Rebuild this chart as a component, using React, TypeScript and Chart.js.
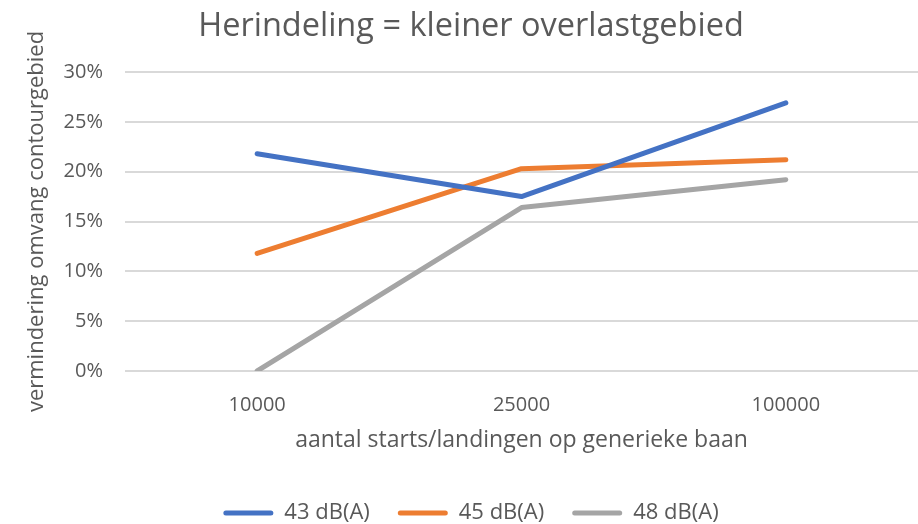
import React, { useEffect, useRef } from "react";
import { Chart, registerables } from "chart.js";

Chart.register(...registerables);

const categories = ["10000", "25000", "100000"];
const series43 = [21.8, 17.5, 26.9];
const series45 = [11.8, 20.3, 21.2];
const series48 = [0, 16.4, 19.2];
const seriesNames = ["43 dB(A)", "45 dB(A)", "48 dB(A)"];
const yTicks = [0, 5, 10, 15, 20, 25, 30];

const FONT = "'Open Sans', 'Liberation Sans', sans-serif";
const TEXT = "#595959";

export default function App() {
  const ref = useRef<HTMLCanvasElement | null>(null);
  useEffect(() => {
    if (!ref.current) return;
    const colors = ["#4472C4", "#ED7D31", "#A5A5A5"];
    const vals = [series43, series45, series48];
    const chart = new Chart(ref.current, {
      type: "line",
      data: {
        labels: categories,
        datasets: vals.map((v, i) => ({
          label: seriesNames[i],
          data: v,
          borderColor: colors[i],
          backgroundColor: colors[i],
          borderWidth: 5,
          pointRadius: 0,
          borderCapStyle: "round" as const,
          borderJoinStyle: "round" as const,
          tension: 0,
        })),
      },
      options: {
        animation: false,
        responsive: false,
        maintainAspectRatio: false,
        layout: { padding: { left: 24, right: 0, top: 0, bottom: -10 } },
        plugins: {
          title: {
            display: true,
            text: "Herindeling = kleiner overlastgebied",
            color: TEXT,
            font: { family: FONT, size: 32.5, weight: "normal" },
            padding: { top: 7, bottom: 26 },
          },
          legend: {
            position: "bottom",
            labels: {
              color: TEXT,
              font: { family: FONT, size: 22 },
              boxWidth: 50,
              boxHeight: 5,
              padding: 28,
              generateLabels: (c: any) => {
                const items = Chart.defaults.plugins.legend.labels.generateLabels(c);
                return items.map((it: any) => ({ ...it, lineWidth: 0, borderRadius: 2.5 }));
              },
            },
          },
          tooltip: { enabled: false },
        },
        scales: {
          x: {
            offset: true,
            grid: { display: false, drawTicks: false },
            border: { display: false },
            ticks: { color: TEXT, font: { family: FONT, size: 20 }, padding: 22 },
            title: {
              display: true,
              text: "aantal starts/landingen op generieke baan",
              color: TEXT,
              font: { family: FONT, size: 23 },
              padding: { top: 0, bottom: 20 },
            },
            afterFit: (axis: any) => {
              axis.height = 103;
            },
          },
          y: {
            min: 0,
            max: 30,
            afterBuildTicks: (axis: any) => {
              axis.ticks = yTicks.map((v) => ({ value: v }));
            },
            afterFit: (axis: any) => {
              axis.width = 101;
            },
            grid: { color: "#D9D9D9", lineWidth: 2, drawTicks: false },
            border: { display: false },
            ticks: {
              color: TEXT,
              font: { family: FONT, size: 20 },
              padding: 22,
              callback: (v: any) => v + "%",
            },
            title: {
              display: true,
              text: "vermindering omvang contourgebied",
              color: TEXT,
              font: { family: FONT, size: 22 },
              padding: { top: 0, bottom: 0 },
            },
          },
        },
      },
    });
    return () => chart.destroy();
  }, []);
  return (
    <div style={{ position: "fixed", left: 0, top: 0, width: 918, height: 524, background: "#fff" }}>
      <canvas ref={ref} width={918} height={524} style={{ width: 918, height: 524 }} />
    </div>
  );
}
